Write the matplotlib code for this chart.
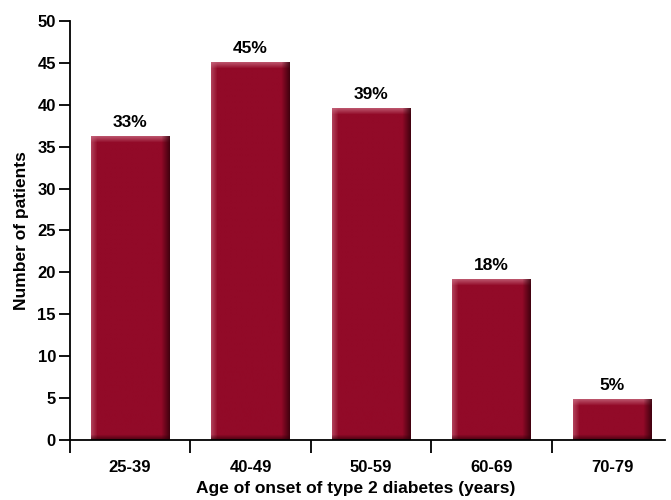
import matplotlib
matplotlib.use('Agg')
import matplotlib.pyplot as plt
import numpy as np

plt.rcParams['font.family'] = ['Liberation Sans', 'DejaVu Sans']
plt.rcParams['font.weight'] = 'bold'

age_groups = ['25-39', '40-49', '50-59', '60-69', '70-79']
patients = [36.2, 45.0, 39.5, 19.1, 4.8]
pct_labels = ['33%', '45%', '39%', '18%', '5%']

base = np.array([0x92, 0x0A, 0x28]) / 255.0
light = np.array([0xC8, 0x6A, 0x80]) / 255.0
dark = np.array([0x30, 0x00, 0x0A]) / 255.0


def shaded_bar(wpx, hpx):
    # little bevelled look: light left/top, dark right/bottom
    wpx = max(int(round(wpx)), 2)
    hpx = max(int(round(hpx)), 2)
    img = np.tile(base, (hpx, wpx, 1)).astype(float)
    xs = np.arange(wpx)
    ys = np.arange(hpx)
    # left highlight
    lw = 6
    t = np.clip(1 - xs / lw, 0, 1)[None, :, None] * 0.55
    img = img * (1 - t) + light * t
    # top highlight
    tw = 6
    t = np.clip(1 - ys / tw, 0, 1)[:, None, None] * 0.75
    img = img * (1 - t) + light * t
    # right shadow
    rw = 8
    t = np.clip(1 - (wpx - 1 - xs) / rw, 0, 1)[None, :, None] * 0.8
    img = img * (1 - t) + dark * t
    # bottom shadow
    bw = 5
    t = np.clip(1 - (hpx - 1 - ys) / bw, 0, 1)[:, None, None] * 0.7
    img = img * (1 - t) + dark * t
    return img


fig = plt.figure(figsize=(6.71, 5.0), dpi=100)
ax = fig.add_axes([0.104, 0.12, 0.887, 0.838])

x = np.arange(len(age_groups))
width = 0.65
ax.set_xlim(-0.5, 4.44)
ax.set_ylim(0, 50)

bars = ax.bar(x, patients, width=width, color='none', edgecolor='none')
for b in bars:
    x0, y0 = b.get_x(), b.get_y()
    w, h = b.get_width(), b.get_height()
    p0 = ax.transData.transform((x0, y0))
    p1 = ax.transData.transform((x0 + w, y0 + h))
    img = shaded_bar(p1[0] - p0[0], p1[1] - p0[1])
    ax.imshow(img, extent=(x0, x0 + w, y0, y0 + h), aspect='auto',
              interpolation='bilinear', zorder=2)

for xi, v, lab in zip(x, patients, pct_labels):
    ax.annotate(lab, (xi, v), xytext=(0, 5), textcoords='offset points',
                ha='center', va='bottom', fontsize=12.5, fontweight='bold')

ax.spines['top'].set_visible(False)
ax.spines['right'].set_visible(False)
ax.spines['left'].set_linewidth(1.3)
ax.spines['bottom'].set_linewidth(1.3)

ax.set_yticks(np.arange(0, 51, 5))
ax.tick_params(axis='y', direction='out', length=8, width=1.3, labelsize=12, pad=2)
ax.set_xticks(x)
ax.set_xticklabels(age_groups)
ax.tick_params(axis='x', which='major', length=0, labelsize=12, pad=14.5)
ax.set_xticks(np.arange(-0.5, 4, 1), minor=True)
ax.tick_params(axis='x', which='minor', direction='out', length=9, width=1.3)

ax.set_xlabel('Age of onset of type 2 diabetes (years)', fontsize=12.5,
              fontweight='bold')
ax.xaxis.set_label_coords(0.48, -0.098)
ax.set_ylabel('Number of patients', fontsize=12.5, fontweight='bold', labelpad=6)

fig.savefig('out.png', dpi=100)
